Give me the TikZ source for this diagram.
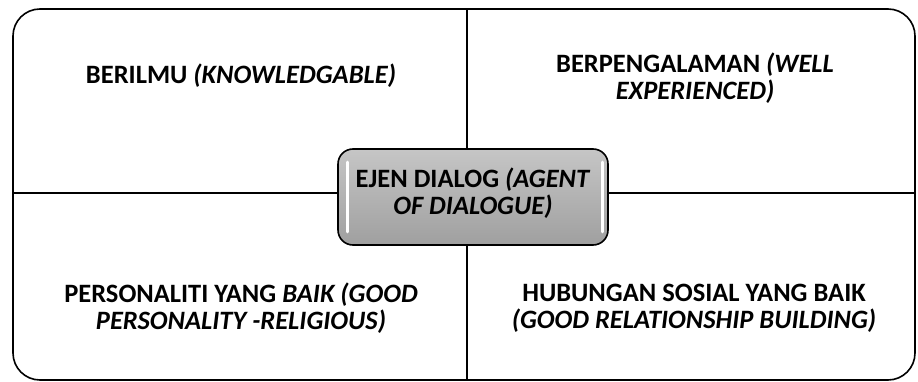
\documentclass[tikz,border=0pt]{standalone}
\usepackage{fontspec}
\setmainfont{Carlito}
\usepackage{tikz}
\usetikzlibrary{positioning}
\tikzset{
  quadtext/.style={align=center, font=\fontsize{26.5}{27}\selectfont\bfseries},
  agentbox/.style={draw=black, line width=1.6pt, rounded corners=15pt,
    top color=gray!45, bottom color=gray!75, minimum width=270pt, minimum height=96pt},
  shine/.style={white, line width=3pt, line cap=round},
}

\begin{document}
\begin{tikzpicture}[x=1pt,y=-1pt]
    \useasboundingbox (0,0) rectangle (918,382);
    % Outer frame
    \draw[line width=1.6pt, rounded corners=27pt] (13,9) rectangle (915,380);
    \coordinate (top) at (467,9);
    \coordinate (bottom) at (467,380);
    \coordinate (left) at (13,193);
    \coordinate (right) at (915,193);
    % Dividers
    \draw[line width=1.6pt] (top) -- (bottom);
    \draw[line width=1.6pt] (left) -- (right);
    % Quadrant texts
       \node[quadtext] (knowledge) at (241,76) {BERILMU \textit{(KNOWLEDGABLE)}};
       \node[quadtext] (experience) at (695,78) {BERPENGALAMAN \textit{(WELL}\\\textit{EXPERIENCED)}};
       \node[quadtext] (personality) at (241,308) {PERSONALITI YANG \textit{BAIK (GOOD}\\\textit{PERSONALITY -RELIGIOUS)}};
       \node[quadtext] (relation) at (694,308) {HUBUNGAN SOSIAL YANG BAIK\\\textit{(GOOD RELATIONSHIP BUILDING)}};
       % Centre box
       \node[agentbox] (agent) at (473,197) {};
       \node[quadtext] (agentlabel) at ([yshift=3.5pt]agent.center) {EJEN DIALOG \textit{(AGENT}\\\textit{OF DIALOGUE)}};
       \draw[shine] ([xshift=10pt,yshift=-14pt]agent.north west) -- ([xshift=10pt,yshift=14pt]agent.south west);
       \draw[shine] ([xshift=-6pt,yshift=-14pt]agent.north east) -- ([xshift=-6pt,yshift=14pt]agent.south east);
\end{tikzpicture}
\end{document}
